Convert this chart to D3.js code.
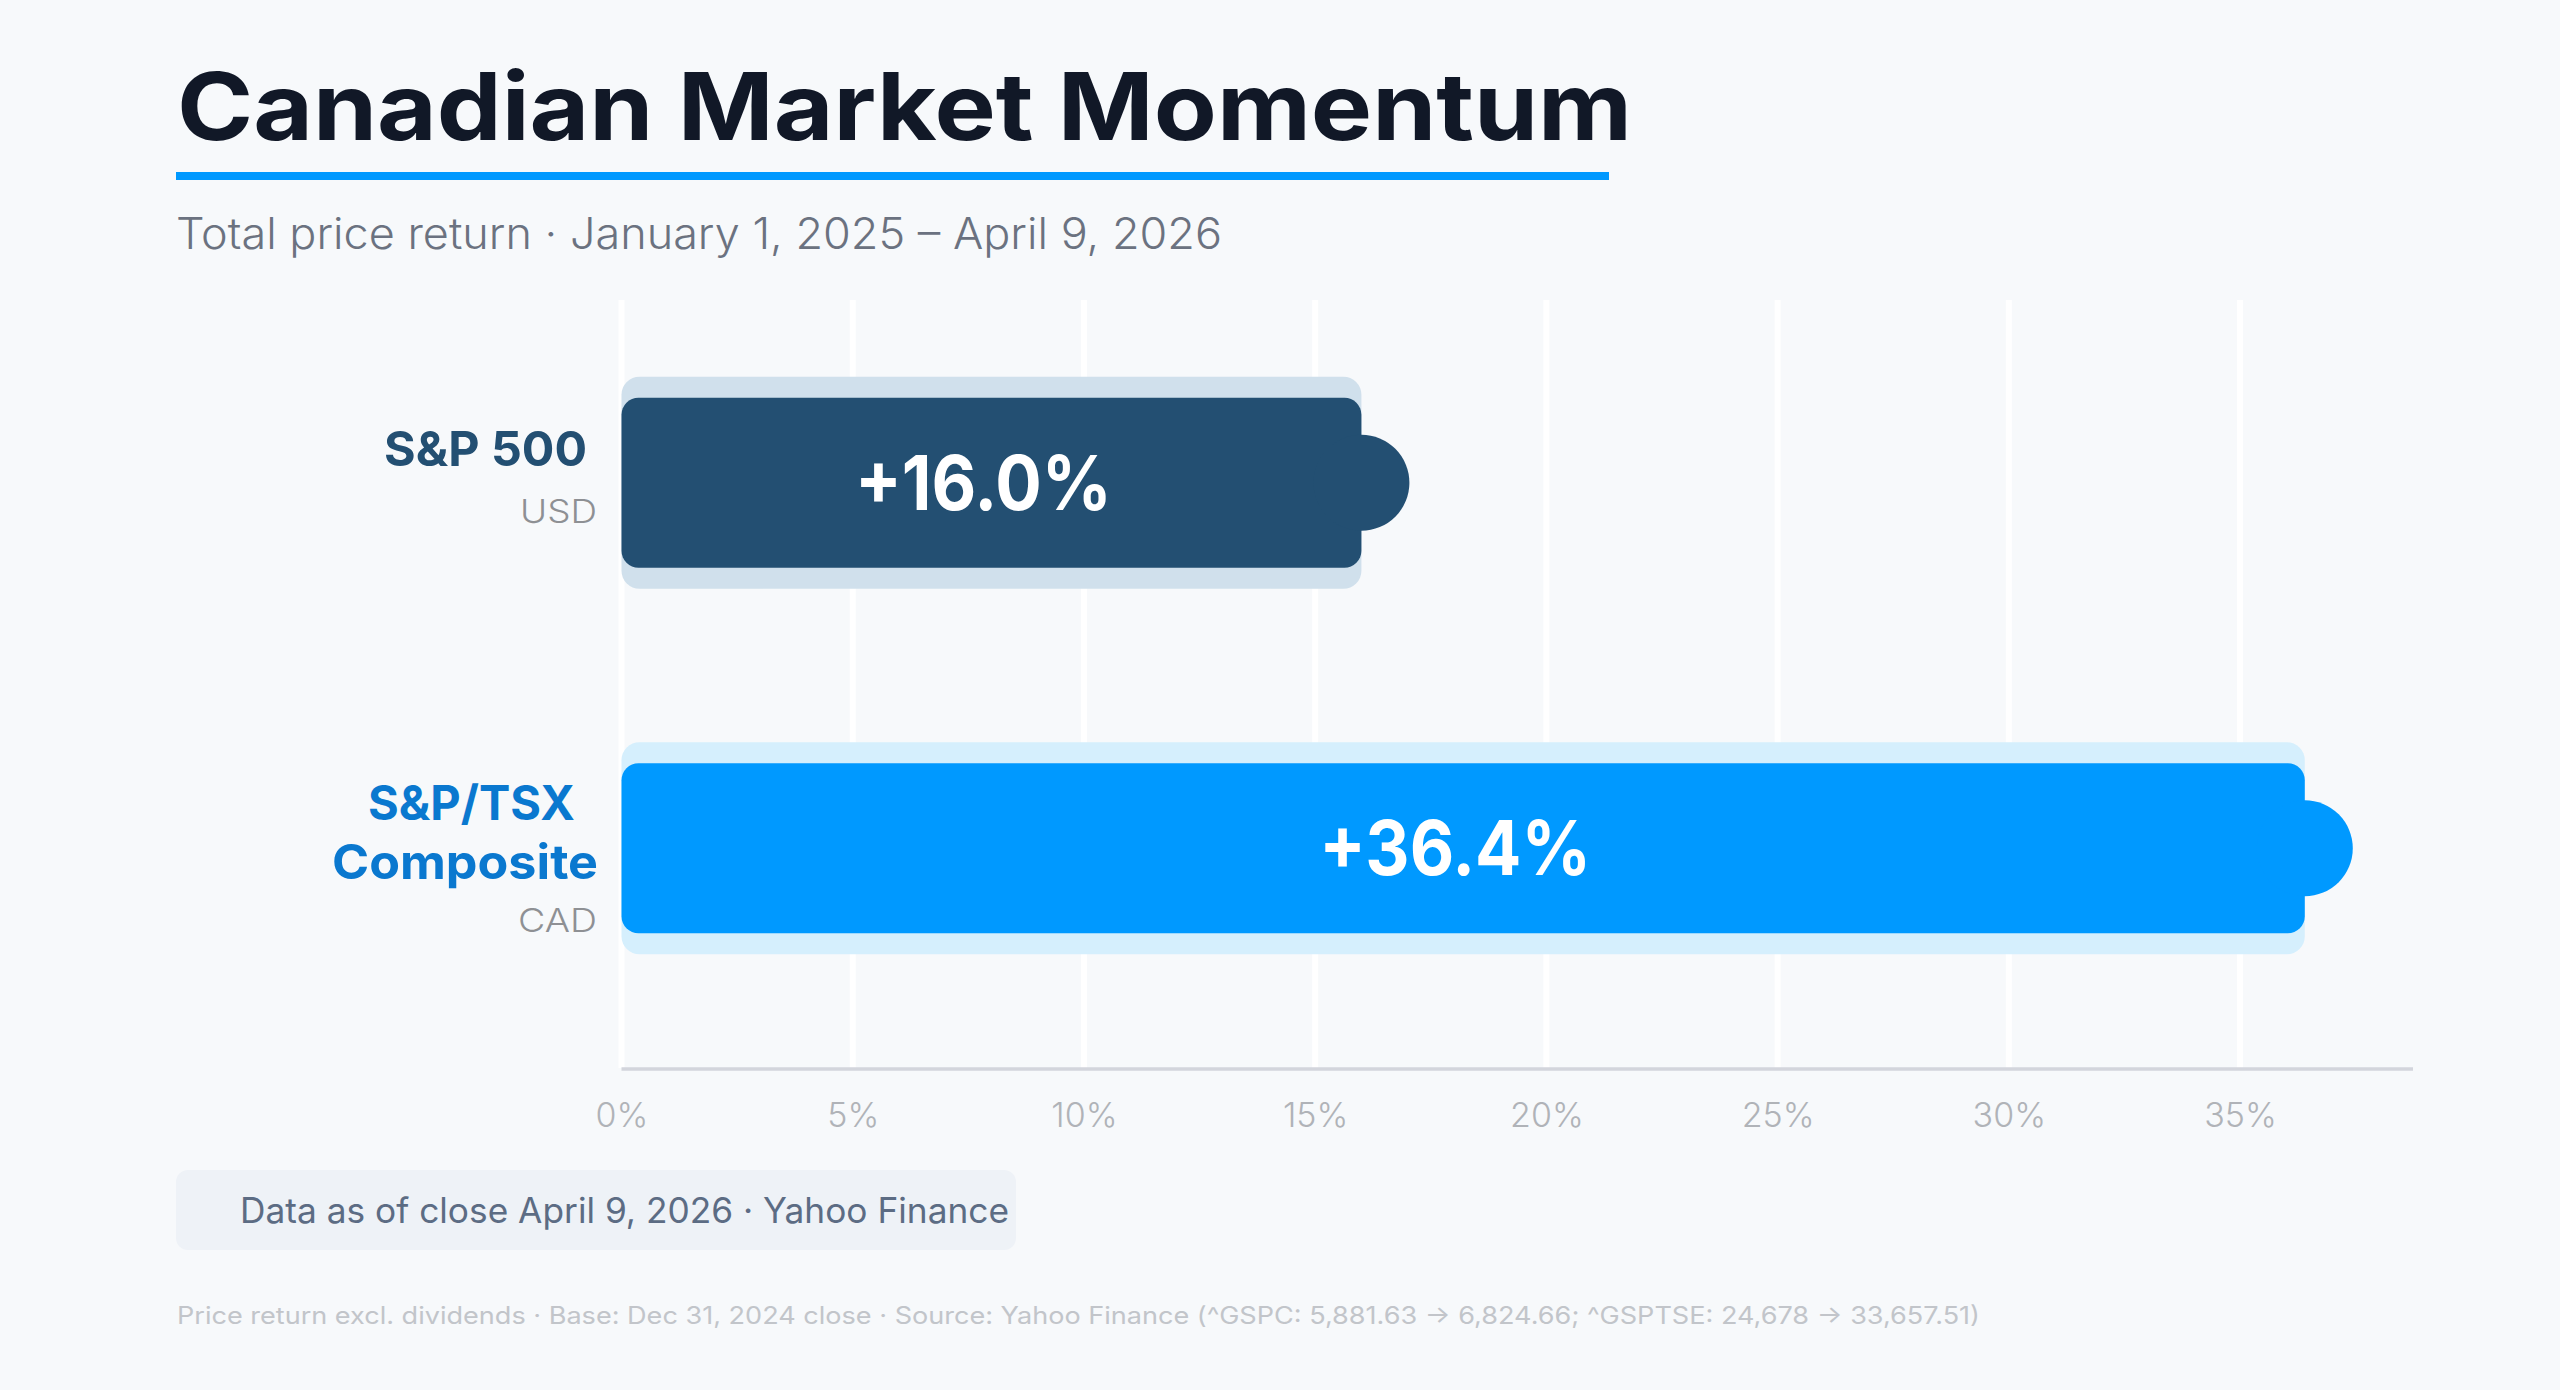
<!DOCTYPE html>
<html>
<head>
<meta charset="utf-8">
<script src="https://cdn.jsdelivr.net/npm/d3@7"></script>
<style>
  html, body { margin: 0; padding: 0; background: #f7f9fb; }
  svg { display: block; }
  text { font-family: Inter, "Open Sans", "Noto Sans", sans-serif; }
</style>
</head>
<body>
<svg id="chart" width="2560" height="1390"></svg>
<script>
// ---- data ----
const categories = ["S&P 500", "S&P/TSX Composite"];
const nameLines = [["S&P 500"], ["S&P/TSX", "Composite"]];
const currencies = ["USD", "CAD"];
const returns = [16.0, 36.4];
const tickValues = [0, 5, 10, 15, 20, 25, 30, 35];
const tickLabels = ["0%", "5%", "10%", "15%", "20%", "25%", "30%", "35%"];
const xMax = 38.74;

const titleText = "Canadian Market Momentum";
const subtitleText = "Total price return · January 1, 2025 – April 9, 2026";
const noteText = "Data as of close April 9, 2026 · Yahoo Finance";
const footText = "Price return excl. dividends · Base: Dec 31, 2024 close · Source: Yahoo Finance (^GSPC: 5,881.63 → 6,824.66; ^GSPTSE: 24,678 → 33,657.51)";

// ---- styles ----
const barColors = ["#234f72", "#0099ff"];
const bandColors = ["#d0e0ec", "#d5effd"];
const labelColors = ["#234f72", "#0a78cf"];

const svg = d3.select("#chart");
svg.append("rect").attr("width", 2560).attr("height", 1390).attr("fill", "#f7f9fb");

function fit(sel, w) {
  sel.each(function () {
    const cur = this.getComputedTextLength();
    if (Math.abs(cur - w) > 1) {
      d3.select(this).attr("textLength", w).attr("lengthAdjust", "spacingAndGlyphs");
    }
  });
  return sel;
}

// ---- header ----
fit(svg.append("text").attr("x", 177).attr("y", 140)
  .attr("font-size", 93).attr("font-weight", 750).attr("fill", "#111827")
  .text(titleText), 1455);
svg.append("rect").attr("x", 176).attr("y", 172).attr("width", 1433).attr("height", 8)
  .attr("fill", "#0099ff");
fit(svg.append("text").attr("x", 176).attr("y", 249)
  .attr("font-size", 43).attr("font-weight", 350).attr("fill", "#6b7280")
  .text(subtitleText), 1046);

// ---- scales ----
const x = d3.scaleLinear().domain([0, xMax]).range([621.5, 2413]);
const y = d3.scaleBand().domain(categories).range([300, 1031]).padding(0);
const cy = d => y(d) + y.bandwidth() / 2;

// gridlines
svg.append("g").selectAll("line").data(tickValues).join("line")
  .attr("x1", d => x(d)).attr("x2", d => x(d))
  .attr("y1", 300).attr("y2", 1068)
  .attr("stroke", "#ffffff").attr("stroke-width", 6);

// axis
const axis = d3.axisBottom(x).tickValues(tickValues)
  .tickFormat((d, i) => tickLabels[i]).tickSize(0).tickPadding(0);
const gAxis = svg.append("g").attr("transform", "translate(0,1069)").call(axis);
gAxis.select(".domain").remove();
gAxis.append("line").attr("x1", x(0)).attr("x2", x(xMax)).attr("y1", 0).attr("y2", 0)
  .attr("stroke", "#d3d5dc").attr("stroke-width", 3.5);
gAxis.selectAll(".tick text")
  .attr("y", 58).attr("dy", 0)
  .attr("font-family", "Inter, 'Open Sans', sans-serif")
  .attr("font-size", 34).attr("font-weight", 300).attr("fill", "#b0b3b8");

// bars
const rows = categories.map((c, i) => ({ c, i, v: returns[i] }));
const gBars = svg.append("g");
gBars.selectAll("rect.band").data(rows).join("rect").attr("class", "band")
  .attr("x", x(0)).attr("width", d => x(d.v) - x(0))
  .attr("y", d => cy(d.c) - 106).attr("height", 212)
  .attr("rx", 18).attr("fill", d => bandColors[d.i]);
gBars.selectAll("rect.bar").data(rows).join("rect").attr("class", "bar")
  .attr("x", x(0)).attr("width", d => x(d.v) - x(0))
  .attr("y", d => cy(d.c) - 85).attr("height", 170)
  .attr("rx", 17).attr("fill", d => barColors[d.i]);
gBars.selectAll("circle").data(rows).join("circle")
  .attr("cx", d => x(d.v)).attr("cy", d => cy(d.c)).attr("r", 48)
  .attr("fill", d => barColors[d.i]);

const fmt = d3.format("+.1f");
const valueWidths = [257, 272];
gBars.selectAll("text.val").data(rows).join("text").attr("class", "val")
  .attr("x", d => (x(0) + x(d.v)) / 2 - 8).attr("y", d => cy(d.c) + 27)
  .attr("text-anchor", "middle").attr("font-size", 76).attr("font-weight", 700)
  .attr("fill", "#ffffff")
  .text(d => fmt(d.v) + "%")
  .each(function (d) { fit(d3.select(this), valueWidths[d.i]); });

// category labels
const nameEnds = [[587], [575, 598]];
const nameWidths = [[203], [207, 266]];
const curWidths = [77, 79];
const gLab = svg.append("g");
rows.forEach(d => {
  const lines = nameLines[d.i];
  const first = cy(d.c) - 17 - (lines.length - 1) * 11.5;
  lines.forEach((ln, k) => {
    fit(gLab.append("text")
      .attr("x", nameEnds[d.i][k]).attr("y", first + k * 59)
      .attr("text-anchor", "end").attr("font-size", 48).attr("font-weight", 700)
      .attr("fill", labelColors[d.i]).text(ln), nameWidths[d.i][k]);
  });
  const lastY = first + (lines.length - 1) * 59;
  fit(gLab.append("text")
    .attr("x", 597).attr("y", lastY + (lines.length > 1 ? 53 : 57))
    .attr("text-anchor", "end").attr("font-size", 33).attr("font-weight", 300)
    .attr("fill", "#8e9094").text(currencies[d.i]), curWidths[d.i]);
});

// note box
svg.append("rect").attr("x", 176).attr("y", 1170).attr("width", 840).attr("height", 80)
  .attr("rx", 12).attr("fill", "#eef2f7");
fit(svg.append("text").attr("x", 240).attr("y", 1223)
  .attr("font-size", 35).attr("font-weight", 400).attr("fill", "#5c6c84")
  .text(noteText), 769);

// footer
fit(svg.append("text").attr("x", 177).attr("y", 1324)
  .attr("font-size", 24).attr("font-weight", 400).attr("fill", "#c2c5ca")
  .text(footText), 1803);
</script>
</body>
</html>
